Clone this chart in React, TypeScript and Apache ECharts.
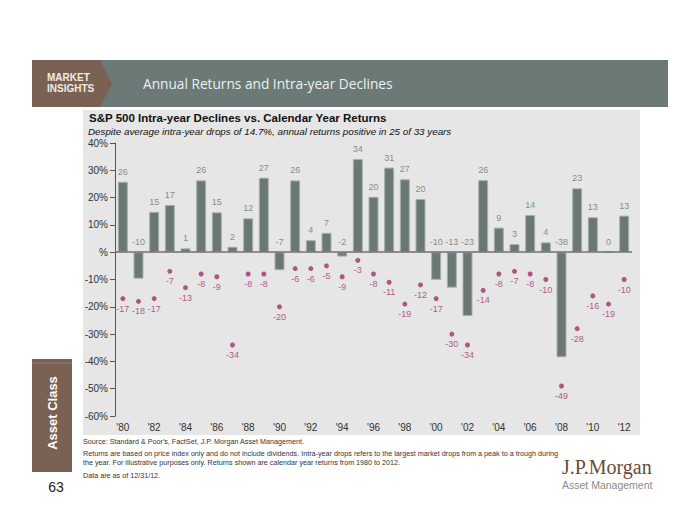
import React, { useEffect, useRef } from "react";
import * as echarts from "echarts";

const years = [
  "1980","1981","1982","1983","1984","1985","1986","1987","1988","1989",
  "1990","1991","1992","1993","1994","1995","1996","1997","1998","1999",
  "2000","2001","2002","2003","2004","2005","2006","2007","2008","2009",
  "2010","2011","2012",
];
const calendarReturns = [
  25.8, -9.7, 14.8, 17.3, 1.4, 26.3, 14.6, 2.0, 12.4, 27.3,
  -6.6, 26.3, 4.4, 7.1, -1.6, 34.1, 20.3, 31.0, 26.7, 19.5,
  -10.1, -13.0, -23.4, 26.4, 9.0, 3.0, 13.6, 3.6, -38.5, 23.4,
  12.8, 0.0, 13.4,
];
const intraYearDeclines = [
  -17, -18, -17, -7, -13, -8, -9, -34, -8, -8,
  -20, -6, -6, -5, -9, -3, -8, -11, -19, -12,
  -17, -30, -34, -14, -8, -7, -8, -10, -49, -28,
  -16, -19, -10,
];
const yMin = -60;
const yMax = 40;
const yStep = 10;

const headerTitle = "Annual Returns and Intra-year Declines";
const chartTitle = "S&P 500 Intra-year Declines vs. Calendar Year Returns";
const chartSubtitle =
  "Despite average intra-year drops of 14.7%, annual returns positive in 25 of 33 years";
const footnotes = [
  "Source: Standard & Poor's, FactSet, J.P. Morgan Asset Management.",
  "Returns are based on price index only and do not include dividends. Intra-year drops refers to the largest market drops from a peak to a trough during",
  "the year. For illustrative purposes only. Returns shown are calendar year returns from 1980 to 2012.",
  "Data are as of 12/31/12.",
];

const SANS = "'Liberation Sans', Arial, sans-serif";

export default function App() {
  const ref = useRef<HTMLDivElement>(null);
  useEffect(() => {
    if (!ref.current) return;
    const chart = echarts.init(ref.current, null, { renderer: "svg" });
    const option: any = {
      animation: false,
      backgroundColor: "#ffffff",
      textStyle: { fontFamily: SANS },
      grid: { left: 115, right: 68, top: 143, bottom: 109, containLabel: false },
      xAxis: {
        type: "category",
        data: years.map((y) => "'" + y.slice(2)),
        axisLine: { show: false, onZero: false },
        axisTick: { show: false },
        axisLabel: { interval: 1, color: "#333333", fontSize: 10, margin: 6, fontFamily: SANS },
        splitLine: { show: false },
      },
      yAxis: {
        type: "value",
        min: yMin,
        max: yMax,
        interval: yStep,
        axisLine: { show: true, lineStyle: { color: "#555555", width: 1 } },
        axisTick: { show: true, length: 5, lineStyle: { color: "#555555" } },
        axisLabel: {
          color: "#333333",
          fontSize: 10,
          margin: 7,
          fontFamily: SANS,
          formatter: (v: number) => (v === 0 ? "%" : v + "%"),
        },
        splitLine: { show: false },
      },
      graphic: [
        { type: "rect", z: -10, shape: { x: 83, y: 110, width: 557, height: 325 }, style: { fill: "#e5e6e5" } },
        // header
        { type: "rect", shape: { x: 32, y: 60, width: 636, height: 47 }, style: { fill: "#6b7a77" } },
        {
          type: "polygon",
          shape: { points: [[32, 60], [100, 60], [112, 83.5], [100, 107], [32, 107]] },
          style: { fill: "#7a6153" },
        },
        { type: "text", x: 47, y: 77, style: { text: "MARKET", fill: "#f2ebe4", font: "bold 10px " + SANS, textVerticalAlign: "middle" } },
        { type: "text", x: 47, y: 88, style: { text: "INSIGHTS", fill: "#f2ebe4", font: "bold 10px " + SANS, textVerticalAlign: "middle" } },
        { type: "text", x: 143, y: 83, style: { text: headerTitle, fill: "#eef0ef", font: "13.7px 'Open Sans', sans-serif", textVerticalAlign: "middle" } },
        // chart titles
        { type: "text", x: 89, y: 117.5, style: { text: chartTitle, fill: "#111111", font: "bold 11.5px " + SANS, textVerticalAlign: "middle" } },
        { type: "text", x: 88, y: 131, style: { text: chartSubtitle, fill: "#111111", font: "italic 9.8px " + SANS, textVerticalAlign: "middle" } },
        // footnotes
        { type: "text", x: 83, y: 441, style: { text: footnotes[0], fill: "#333333", font: "7.2px " + SANS, textVerticalAlign: "middle" } },
        { type: "text", x: 83, y: 453, style: { text: footnotes[1], fill: "#333333", font: "7.2px " + SANS, textVerticalAlign: "middle" } },
        { type: "text", x: 83, y: 462.5, style: { text: footnotes[2], fill: "#333333", font: "7.2px " + SANS, textVerticalAlign: "middle" } },
        { type: "text", x: 83, y: 475, style: { text: footnotes[3], fill: "#333333", font: "7.2px " + SANS, textVerticalAlign: "middle" } },
        // side tab
        { type: "rect", shape: { x: 32, y: 359, width: 40, height: 113 }, style: { fill: "#7a6153" } },
        { type: "line", shape: { x1: 32, y1: 363, x2: 72, y2: 363 }, style: { stroke: "#94807a", lineWidth: 1 } },
        {
          type: "text",
          x: 52,
          y: 413,
          rotation: Math.PI / 2,
          style: { text: "Asset Class", fill: "#ffffff", font: "bold 13px " + SANS, textAlign: "center", textVerticalAlign: "middle" },
        },
        { type: "text", x: 56, y: 487, style: { text: "63", fill: "#222222", font: "14px " + SANS, textAlign: "center", textVerticalAlign: "middle" } },
        // logo
        { type: "text", x: 562, y: 467, style: { text: "J.P.Morgan", fill: "#6b4a38", font: "20px 'Liberation Serif', serif", textVerticalAlign: "middle" } },
        { type: "text", x: 562, y: 485, style: { text: "Asset Management", fill: "#8a8a8a", font: "10.5px " + SANS, textVerticalAlign: "middle" } },
      ],
      series: [
        {
          name: "Calendar year return",
          type: "bar",
          data: calendarReturns,
          barWidth: 10,
          itemStyle: { color: "#6b7773", borderColor: "#a7b0ad", borderWidth: 1 },
          markLine: {
            silent: true,
            symbol: "none",
            label: { show: false },
            lineStyle: { color: "#707070", width: 1.5, type: "solid" },
            data: [{ yAxis: 0 }],
          },
          z: 2,
        },
        {
          name: "Return labels",
          type: "scatter",
          data: calendarReturns.map((v, i) => [i, Math.max(v, 0)]),
          symbolSize: 1,
          itemStyle: { color: "rgba(0,0,0,0)" },
          label: {
            show: true,
            position: "top",
            distance: 5,
            color: "#707070",
            fontSize: 9,
            fontFamily: SANS,
            formatter: (p: any) => String(Math.round(calendarReturns[p.dataIndex])),
          },
          z: 3,
        },
        {
          name: "Intra-year decline",
          type: "scatter",
          data: intraYearDeclines,
          symbol: "circle",
          symbolSize: 5,
          itemStyle: { color: "#a3306e" },
          label: {
            show: true,
            position: "bottom",
            distance: 3,
            color: "#a3306e",
            fontSize: 9,
            fontFamily: SANS,
            formatter: (p: any) => String(intraYearDeclines[p.dataIndex]),
          },
          z: 4,
        },
      ],
    };
    chart.setOption(option);
    return () => chart.dispose();
  }, []);
  return (
    <div
      ref={ref}
      style={{ position: "fixed", left: 0, top: 0, width: 700, height: 525 }}
    />
  );
}
